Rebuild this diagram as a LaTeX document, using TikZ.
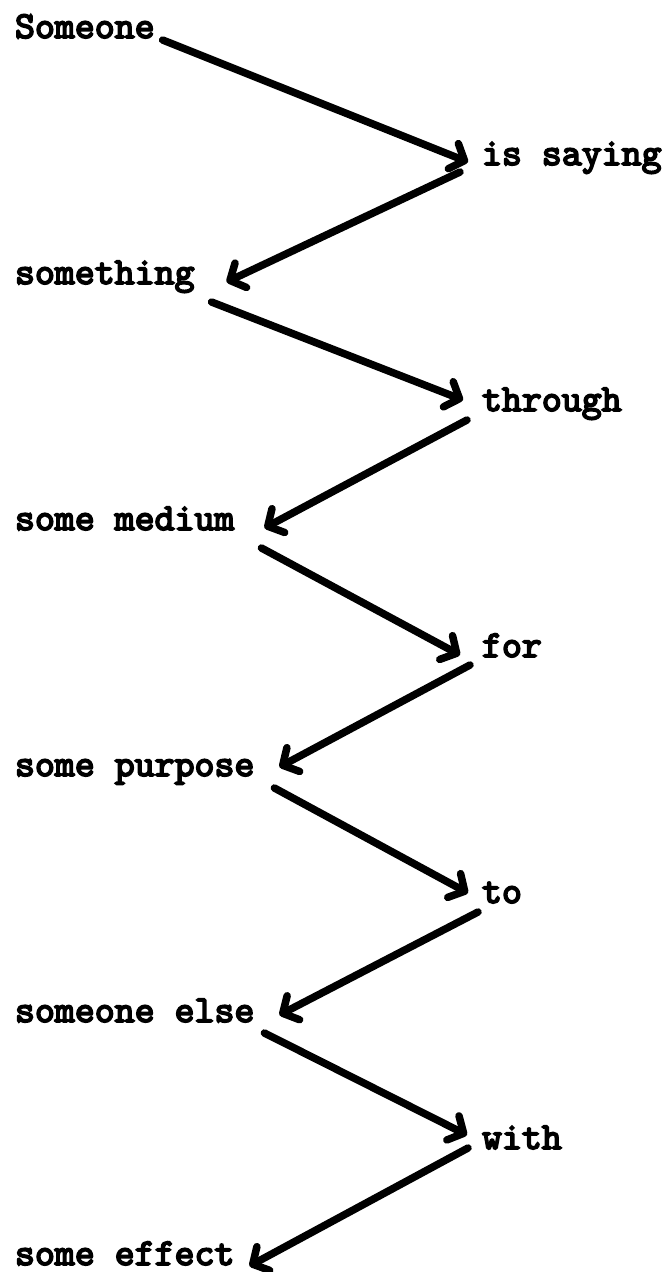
\documentclass[tikz,border=0pt]{standalone}
\usepackage{fontspec}
\newfontfamily\twfont{lmmono10-regular}[Extension=.otf,FakeBold=4.5]
\usetikzlibrary{arrows.meta,calc}
\begin{document}
\begin{tikzpicture}[x=1pt,y=-1pt,
  lbl/.style={inner sep=0pt,outer sep=0pt,anchor=base west,
    font=\twfont\fontsize{38}{44}\selectfont},
  arr/.style={line width=7.5pt,line cap=round,line join=round,
    -{Straight Barb[length=12pt,width=27pt,line cap=round,line join=round]}}]
\useasboundingbox (0,0) rectangle (668,1272);
% left column
\node[lbl] (a1) at (15,38)   {Someone};
\node[lbl] (a2) at (15,284)  {something};
\node[lbl] (a3) at (15,530)  {some medium};
\node[lbl] (a4) at (15,776)  {some purpose};
\node[lbl] (a5) at (15,1022) {someone else};
\node[lbl] (a6) at (15,1265) {some effect};
% right column
\node[lbl] (b1) at (482,165)  {is saying};
\node[lbl] (b2) at (482,411)  {through};
\node[lbl] (b3) at (482,657)  {for};
\node[lbl] (b4) at (482,903)  {to};
\node[lbl] (b5) at (482,1149) {with};
% arrows
\draw[arr] ($(a1.base east)+(8,2)$)   -- ($(b1.base west)+(-14,-3)$);
\draw[arr] ($(b1.base west)+(-22,7)$) -- ($(a2.base east)+(32,-2)$);
\draw[arr] ($(a2.base east)+(17,18)$) -- ($(b2.base west)+(-19,-11)$);
\draw[arr] ($(b2.base west)+(-15,9)$) -- ($(a3.base east)+(30,-2)$);
\draw[arr] ($(a3.base east)+(27,18)$) -- ($(b3.base west)+(-22,-2)$);
\draw[arr] ($(b3.base west)+(-12,8)$) -- ($(a4.base east)+(25,-9)$);
\draw[arr] ($(a4.base east)+(20,12)$) -- ($(b4.base west)+(-14,-10)$);
\draw[arr] ($(b4.base west)+(-4,9)$)  -- ($(a5.base east)+(25,-7)$);
\draw[arr] ($(a5.base east)+(10,11)$) -- ($(b5.base west)+(-15,-14)$);
\draw[arr] ($(b5.base west)+(-14,-1)$) -- ($(a6.base east)+(15,1)$);
\end{tikzpicture}
\end{document}
